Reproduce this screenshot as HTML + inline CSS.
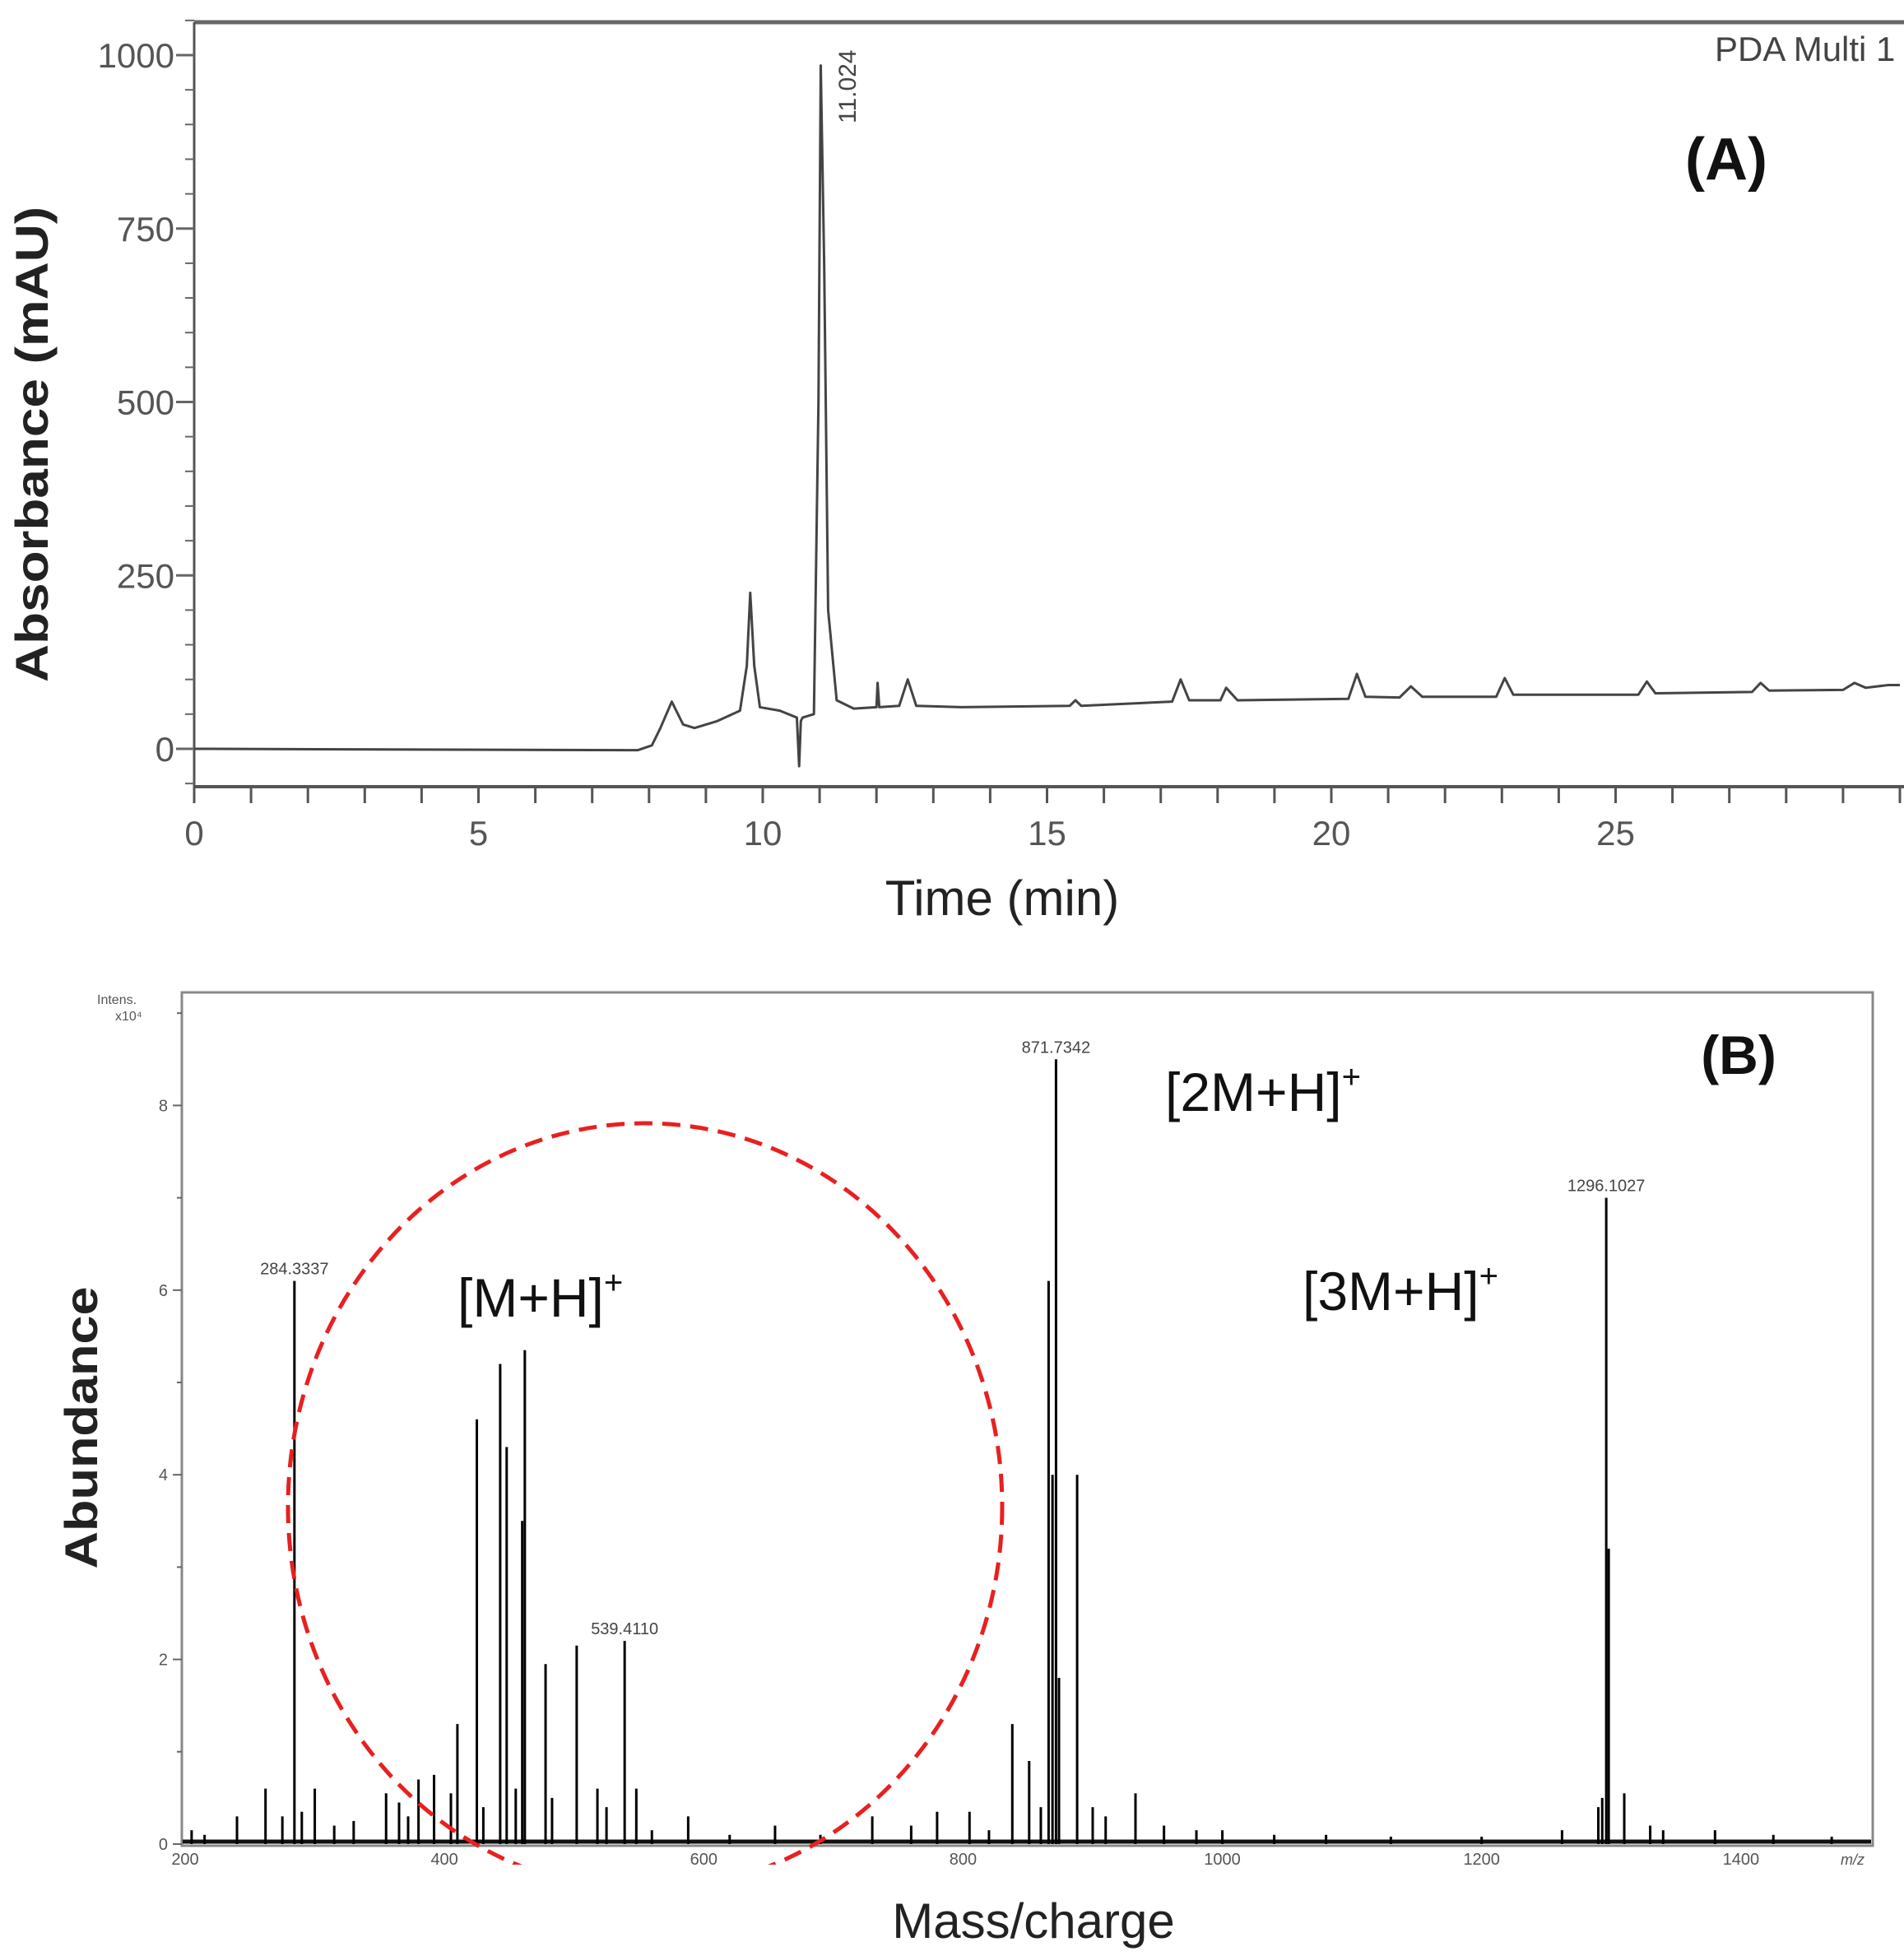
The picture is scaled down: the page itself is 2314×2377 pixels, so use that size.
<!DOCTYPE html>
<html><head><meta charset="utf-8"><style>
html,body{margin:0;padding:0;background:#fff}
svg{display:block}
text{font-family:"Liberation Sans",sans-serif}
.nar{font-family:"Liberation Sans Narrow","Liberation Sans",sans-serif}
</style></head><body>
<svg id="fig" width="2314" height="2377" viewBox="0 0 2314 2377" xmlns="http://www.w3.org/2000/svg">
<g id="pa"></g>
<g id="pb"></g>
</svg>
<script>
// ---- Panel A data ----
const chromTimes = [0,7.8,8.05,8.2,8.4,8.6,8.8,9.2,9.6,9.72,9.78,9.85,9.95,10.3,10.6,10.64,10.67,10.7,10.9,10.98,11.02,11.08,11.15,11.3,11.6,12.0,12.02,12.05,12.4,12.55,12.7,13.5,15.4,15.5,15.6,17.2,17.35,17.5,18.05,18.15,18.35,20.3,20.45,20.6,21.2,21.4,21.6,22.9,23.05,23.2,25.4,25.55,25.7,27.4,27.55,27.7,29.0,29.2,29.4,29.8,30];
const chromValues = [0,-2,5,30,68,35,30,40,55,120,225,120,60,55,45,-25,40,45,50,500,985,700,200,70,58,60,95,60,62,100,62,60,62,70,62,68,100,70,70,88,70,72,108,75,74,90,75,75,102,78,78,97,80,82,95,84,85,95,88,92,92];
const aYTicks = [0,250,500,750,1000];
const aXTicks = [0,5,10,15,20,25];
// ---- Panel B data ----
const msMz = [205,215,240,262,275,284.3,290,300,315,330,355,365,372,380,392,405,410,425,430,443,448,455,460,462,478,483,502,518,525,539,548,560,588,620,655,690,730,760,780,805,820,838,851,860,866,869,871.7,874,888,900,910,933,955,980,1000,1040,1080,1130,1200,1262,1290,1293,1296.1,1298,1310,1330,1340,1380,1425,1470];
const msInt = [0.15,0.1,0.3,0.6,0.3,6.1,0.35,0.6,0.2,0.25,0.55,0.45,0.3,0.7,0.75,0.55,1.3,4.6,0.4,5.2,4.3,0.6,3.5,5.35,1.95,0.5,2.15,0.6,0.4,2.2,0.6,0.15,0.3,0.1,0.2,0.1,0.3,0.2,0.35,0.35,0.15,1.3,0.9,0.4,6.1,4.0,8.5,1.8,4.0,0.4,0.3,0.55,0.2,0.15,0.15,0.1,0.1,0.08,0.08,0.15,0.4,0.5,7.0,3.2,0.55,0.2,0.15,0.15,0.1,0.08];
const msLabels = ["284.3337","539.4110","871.7342","1296.1027"];
const msLabelMz = [284.3,539,871.7,1296.1];
const msLabelInt = [6.1,2.2,8.5,7.0];
const bYTicks = [0,2,4,6,8];
const bXTicks = [200,400,600,800,1000,1200,1400];

const NS="http://www.w3.org/2000/svg";
function mk(parent,tag,attrs,txt){const e=document.createElementNS(NS,tag);for(const k in attrs)e.setAttribute(k,attrs[k]);if(txt!==undefined)e.textContent=txt;parent.appendChild(e);return e;}

// Panel A
const pa=document.getElementById('pa');
const ax=t=>236+t*69.1, ay=v=>910-v*0.843;
let e;
e=mk(pa,'line',{x1:236,y1:27,x2:2314,y2:27,stroke:'#666','stroke-width':5});


e=mk(pa,'line',{x1:236,y1:27,x2:236,y2:958,stroke:'#555','stroke-width':3});


e=mk(pa,'line',{x1:236,y1:956,x2:2314,y2:956,stroke:'#555','stroke-width':4});


for(let v=-50;v<=1050;v+=50){
  const major=v%250===0;
  e=mk(pa,'line',{x1:major?214:225,y1:ay(v),x2:236,y2:ay(v),stroke:'#666','stroke-width':major?3:2});
  
  
}
aYTicks.forEach(v=>{
  e=mk(pa,'text',{x:212,y:ay(v)+15,'text-anchor':'end','font-size':42,fill:'#555',class:'nar'},String(v));
  
  
});
for(let t=0;t<=30;t++){
  e=mk(pa,'line',{x1:ax(t),y1:956,x2:ax(t),y2:976,stroke:'#555','stroke-width':3});
  
  
}
aXTicks.forEach(t=>{
  e=mk(pa,'text',{x:ax(t),y:1027,'text-anchor':'middle','font-size':42,fill:'#555',class:'nar'},String(t));
  
  
});
e=mk(pa,'polyline',{points:chromTimes.map((t,i)=>ax(t)+','+ay(chromValues[i])).join(' '),fill:'none',stroke:'#444','stroke-width':3,'stroke-linejoin':'round'});


e=mk(pa,'text',{x:1040,y:150,'font-size':30,fill:'#444',transform:'rotate(-90 1040 150)'},'11.024');


e=mk(pa,'text',{x:2084,y:74,'font-size':42,fill:'#444',class:'nar'},'PDA Multi 1');


e=mk(pa,'text',{x:2098,y:218,'text-anchor':'middle','font-size':72,'font-weight':'bold',fill:'#111'},'(A)');


e=mk(pa,'text',{x:58,y:540,'text-anchor':'middle','font-size':56,fill:'#222','font-weight':'bold',transform:'rotate(-90 58 540)',textLength:578,lengthAdjust:'spacingAndGlyphs'},'Absorbance (mAU)');


e=mk(pa,'text',{x:1218,y:1112,'text-anchor':'middle','font-size':60,fill:'#222',class:'nar'},'Time (min)');



// Panel B
const pb=document.getElementById('pb');
const bx=m=>225+(m-200)*1.5757, by=v=>2241-v*112.2;
e=mk(pb,'rect',{x:221,y:1206,width:2055,height:1037,fill:'none',stroke:'#888','stroke-width':3});


for(let v=0;v<=9;v++){
  e=mk(pb,'line',{x1:v%2===0?210:215,y1:by(v),x2:221,y2:by(v),stroke:'#666','stroke-width':2});
  
  
}
bYTicks.forEach(v=>{
  e=mk(pb,'text',{x:204,y:by(v)+7,'text-anchor':'end','font-size':20,fill:'#555'},String(v));
  
  
});
bXTicks.forEach(m=>{
  e=mk(pb,'text',{x:bx(m),y:2266,'text-anchor':'middle','font-size':20,fill:'#555'},String(m));
  
  
});
e=mk(pb,'text',{x:2266,y:2266,'text-anchor':'end','font-size':18,fill:'#555','font-style':'italic'},'m/z');


e=mk(pb,'text',{x:118,y:1220,'font-size':16,fill:'#555'},'Intens.');


e=mk(pb,'text',{x:140,y:1240,'font-size':16,fill:'#555'},'x10⁴');


e=mk(pb,'line',{x1:222,y1:2238,x2:2274,y2:2238,stroke:'#111','stroke-width':5});


msMz.forEach((m,i)=>{
  e=mk(pb,'line',{x1:bx(m),y1:2241,x2:bx(m),y2:by(msInt[i]),stroke:'#000','stroke-width':3});
  
  
});
msLabels.forEach((s,i)=>{
  e=mk(pb,'text',{x:bx(msLabelMz[i]),y:by(msLabelInt[i])-8,'text-anchor':'middle','font-size':20,fill:'#444'},s);
  
  
});
mk(pb,'clipPath',{id:'cl'}).appendChild(document.createElementNS(NS,'rect'));
const cr=document.querySelector('#cl rect');cr.setAttribute('x',0);cr.setAttribute('y',0);cr.setAttribute('width',2314);cr.setAttribute('height',2266);
e=mk(pb,'ellipse',{cx:784,cy:1831,rx:434,ry:466,fill:'none',stroke:'#e82020','stroke-width':5,'stroke-dasharray':'22 12','clip-path':'url(#cl)'});


function ion(x,y,base,name){
  const t=mk(pb,'text',{x:x,y:y,'font-size':66,fill:'#111',class:'nar'},base);
  mk(t,'tspan',{'font-size':40,dy:-28},'+');
  
  
}
ion(556,1600,'[M+H]','ion-label-m-h');
ion(1416,1350,'[2M+H]','ion-label-2m-h');
ion(1583,1592,'[3M+H]','ion-label-3m-h');
e=mk(pb,'text',{x:2113,y:1305,'text-anchor':'middle','font-size':66,'font-weight':'bold',fill:'#111'},'(B)');


e=mk(pb,'text',{x:118,y:1735,'text-anchor':'middle','font-size':56,fill:'#222','font-weight':'bold',transform:'rotate(-90 118 1735)',textLength:343,lengthAdjust:'spacingAndGlyphs'},'Abundance');


e=mk(pb,'text',{x:1256,y:2355,'text-anchor':'middle','font-size':60,fill:'#222',class:'nar'},'Mass/charge');


</script>
</body></html>
